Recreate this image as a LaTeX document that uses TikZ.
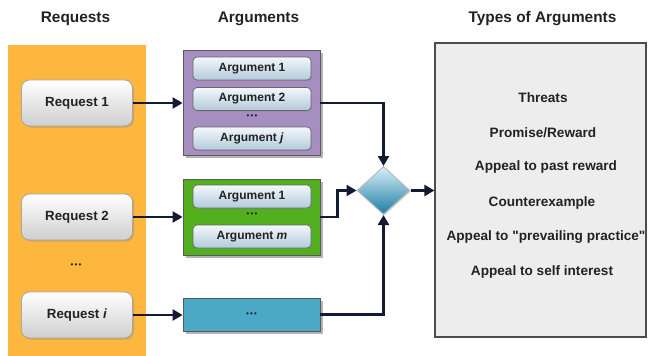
\documentclass[tikz,border=0pt]{standalone}
\usepackage{fontspec}
\setmainfont{Liberation Sans}[Ligatures=TeXOff]
\usetikzlibrary{shapes.geometric,shadows,arrows.meta}
\definecolor{orangebg}{HTML}{FDB73E}
\definecolor{purplebg}{HTML}{A68EC1}
\definecolor{greenbg}{HTML}{52B01F}
\definecolor{bluebg}{HTML}{4BA9C6}
\definecolor{graybg}{HTML}{EDEDED}
\definecolor{arrowc}{HTML}{131B33}
\definecolor{txt}{HTML}{222222}
\definecolor{argtop}{HTML}{F3F8FB}
\definecolor{argbot}{HTML}{B3CADB}
\definecolor{dtop}{HTML}{D8F0F7}
\definecolor{dbot}{HTML}{1C7CA4}
\newcommand{\tridots}{{\fontsize{8}{9}\selectfont •\kern1.2pt•\kern1.2pt•}}
\tikzset{
  titletext/.style={font=\fontsize{15.4}{17}\selectfont\bfseries, text=txt},
  reqbox/.style={draw=gray!70, line width=0.8pt, rounded corners=8pt, top color=white, bottom color=gray!38,
    minimum width=111pt, minimum height=46pt, inner sep=0pt, font=\fontsize{13.3}{15}\selectfont\bfseries, text=txt,
    drop shadow={shadow xshift=1.5pt, shadow yshift=-1.5pt, opacity=0.35}},
  argbox/.style={draw=gray!80!black, line width=0.7pt, rounded corners=4pt, top color=argtop, bottom color=argbot,
    minimum width=118pt, minimum height=23pt, inner sep=0pt, font=\fontsize{12}{14}\selectfont\bfseries, text=txt,
    drop shadow={shadow xshift=1pt, shadow yshift=-1pt, opacity=0.35}},
  groupbox/.style={draw=black!65, line width=0.8pt, minimum width=137pt, inner sep=0pt,
    drop shadow={shadow xshift=3pt, shadow yshift=-3pt, opacity=0.6}},
  dotstext/.style={text=txt, inner sep=0pt},
  listtext/.style={font=\fontsize{13.6}{15}\selectfont\bfseries, text=txt},
  conn/.style={draw=arrowc, line width=2.4pt, -{Triangle[length=10pt,width=11pt]}}
}
\begin{document}
\begin{tikzpicture}[x=1pt,y=-1pt]
\useasboundingbox (0,0) rectangle (648,356);
% orange panel
\fill[orangebg] (8,45) rectangle (146,356);
% titles
\node[titletext] (t1) at (75.5,19) {Requests};
\node[titletext] (t2) at (258.5,19) {Arguments};
\node[titletext] (t3) at (542.5,19) {Types of Arguments};
% requests
\node[reqbox] (r1) at (77,103) {Request 1};
\node[reqbox] (r2) at (77,217) {Request 2};
\node[dotstext] (rd) at (76,266) {\tridots};
\node[reqbox] (ri) at (77,315) {Request \textit{i}};
% purple group
\node[groupbox, fill=purplebg, minimum height=105pt] (pg) at (251.5,102.5) {};
\node[argbox] (pa1) at (252,68.5) {Argument 1};
\node[argbox] (pa2) at (252,99) {Argument 2};
\node[dotstext] (pd) at (252,117) {\tridots};
\node[argbox] (paj) at (252,138.5) {Argument \textit{j}};
% green group
\node[groupbox, fill=greenbg, minimum height=76pt] (gg) at (251.5,217) {};
\node[argbox] (ga1) at (252,196.5) {Argument 1};
\node[dotstext] (gd) at (252,214.5) {\tridots};
\node[argbox] (gam) at (252,236.5) {Argument \textit{m}};
% blue group
\node[groupbox, fill=bluebg, minimum height=33pt, dotstext] (bg) at (251.5,314.5) {\tridots};
% diamond
\node[diamond, draw=gray!55, line width=1pt, aspect=1.1, minimum width=53pt, minimum height=48pt, inner sep=0pt,
  top color=dtop, bottom color=dbot, drop shadow={shadow xshift=1pt, shadow yshift=-1pt, opacity=0.3}] (dm) at (383.5,190.5) {};
% types box
\node[draw=black!70, line width=1.2pt, fill=graybg, minimum width=211pt, minimum height=294pt, inner sep=0pt] (tb) at (540.5,190) {};
\node[listtext] (l1) at (543,98) {Threats};
\node[listtext] (l2) at (543,132.5) {Promise/Reward};
\node[listtext] (l3) at (546,167) {Appeal to past reward};
\node[listtext] (l4) at (542,202.5) {Counterexample};
\node[listtext] (l5) at (546,237) {Appeal to "prevailing practice"};
\node[listtext] (l6) at (542,272) {Appeal to self interest};
% connectors
\draw[conn] (r1.east) -- (r1.east -| pg.west);
\draw[conn] (r2.east) -- (r2.east -| gg.west);
\draw[conn] (ri.east) -- (ri.east -| bg.west);
\draw[conn] (pg.east |- r1.east) -| (dm.north);
\draw[conn] (gg.east) -- ++(17,0) |- (dm.west);
\draw[conn] (bg.east) -| (dm.south);
\draw[conn] (dm.east) -- (dm.east -| tb.west);
\end{tikzpicture}
\end{document}
